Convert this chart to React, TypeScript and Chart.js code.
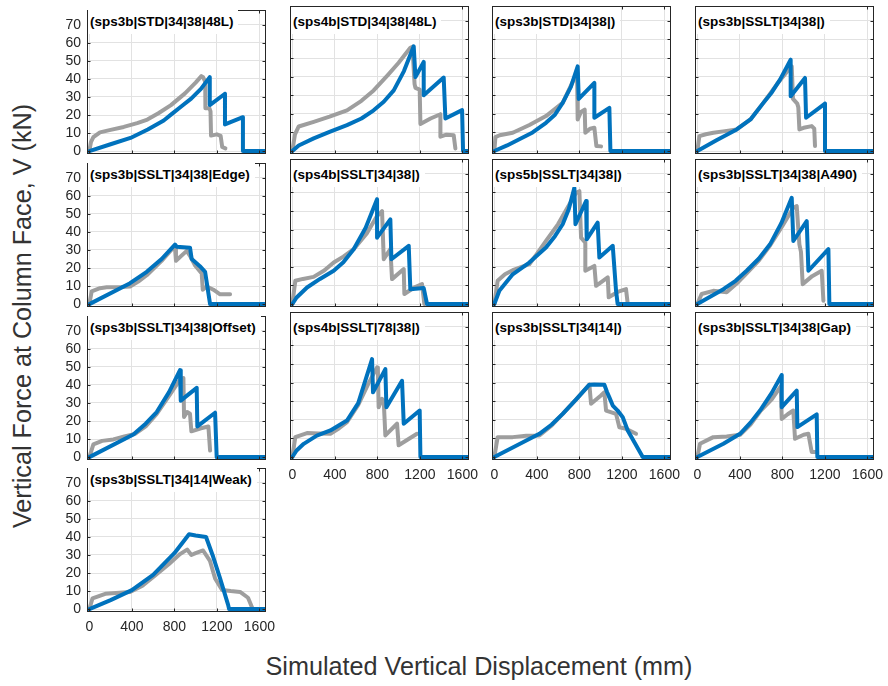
import React, { useEffect, useRef } from 'react';
import { Chart, registerables } from 'chart.js';

Chart.register(...registerables);

// ---------- data ----------
const panelTitles = [
  '(sps3b|STD|34|38|48L)',
  '(sps4b|STD|34|38|48L)',
  '(sps3b|STD|34|38|)',
  '(sps3b|SSLT|34|38|)',
  '(sps3b|SSLT|34|38|Edge)',
  '(sps4b|SSLT|34|38|)',
  '(sps5b|SSLT|34|38|)',
  '(sps3b|SSLT|34|38|A490)',
  '(sps3b|SSLT|34|38|Offset)',
  '(sps4b|SSLT|78|38|)',
  '(sps3b|SSLT|34|14|)',
  '(sps3b|SSLT|34|38|Gap)',
  '(sps3b|SSLT|34|14|Weak)',
];

const xTicks = [0, 400, 800, 1200, 1600];
const yTicks = [0, 10, 20, 30, 40, 50, 60, 70];

// simulated (blue) curves: [displacement mm, force kN]
const sim01 = [[0,0],[200,3.8],[387,7.3],[550,12],[700,17],[768,20.2],[870,25],[958,29.1],[1050,34.5],[1133,41],[1133,25.5],[1276,31.8],[1276,14.8],[1445,18.8],[1445,0],[1700,0]];
const sim02 = [[0,0],[60,3],[201,6.8],[350,10.3],[514,13.9],[650,17.5],[765,21.9],[860,26.5],[954,32.6],[1050,43],[1142,56.3],[1158,39.8],[1236,47.9],[1236,30],[1424,39.5],[1440,17.5],[1597,22],[1606,0],[1700,0]];
const sim03 = [[0,0],[120,3],[235,6.3],[360,10],[486,15.2],[570,19.5],[643,25.9],[720,34.5],[784,45.5],[794,28],[941,36.6],[941,17.9],[1082,23.2],[1092,0],[1700,0]];
const sim04 = [[0,0],[180,5.8],[370,11.6],[500,17],[621,25.9],[700,31.5],[778,38.4],[878,49.1],[878,29.5],[1013,39.3],[1023,17.9],[1201,25.5],[1201,0],[1700,0]];
const sim05 = [[0,0],[383,11.6],[540,17.9],[680,25],[806,33],[822,31.8],[947,31.3],[963,25],[1040,21],[1089,17.9],[1136,0],[1700,0]];
const sim06 = [[0,0],[40,3.5],[138,8.9],[260,13.5],[389,17.9],[480,22.5],[577,29.5],[690,41],[797,56.3],[797,35.7],[922,45.5],[932,24.1],[1095,31.3],[1110,8],[1236,8.6],[1267,0],[1700,0]];
const sim07 = [[0,0],[47,7.1],[173,16],[329,22.3],[420,27],[486,30.4],[570,36.5],[643,42.9],[700,51],[753,62.5],[763,42.9],[863,55.4],[869,34.8],[972,43.8],[988,25],[1114,31.3],[1145,7.1],[1160,0],[1700,0]];
const sim08 = [[0,0],[245,8],[360,12.5],[464,17.9],[580,24.5],[684,32.1],[790,43.5],[888,57.1],[903,33.9],[1029,44.6],[1045,17.9],[1233,29.5],[1242,0],[1700,0]];
const sim09 = [[0,0],[414,12.5],[530,18.5],[634,25],[750,36],[853,48.2],[860,31.3],[1010,38.4],[1016,17],[1183,24.6],[1198,0],[1700,0]];
const sim10 = [[0,0],[40,3.5],[107,7.1],[230,11.5],[358,14.3],[514,19.6],[620,29],[750,52.7],[759,34.8],[875,47.3],[885,26.8],[1032,41],[1048,17.9],[1198,25],[1205,0],[1700,0]];
const sim11 = [[0,0],[424,12.5],[540,17.5],[643,23.2],[770,31],[894,38.9],[940,39],[1035,38.9],[1060,35],[1082,32.1],[1114,27.7],[1160,25],[1208,21.4],[1255,14.3],[1396,0],[1700,0]];
const sim12 = [[0,0],[245,7.1],[402,12.5],[500,18.5],[590,25],[700,34.5],[794,44.1],[794,26.8],[935,35.7],[941,16.1],[1123,22.9],[1129,0],[1700,0]];
const sim13 = [[0,0],[200,5],[400,10.5],[600,19],[800,31],[938,41.5],[1000,40.8],[1098,40],[1165,29],[1230,17],[1305,2.5],[1315,0],[1700,0]];

// experimental (grey) curves
const exp01 = [[0,0],[15,5],[38,7.7],[100,10.4],[200,11.8],[324,13.4],[450,15.5],[546,17.5],[650,21],[768,25.5],[900,32],[1000,38],[1054,41.6],[1070,41],[1090,38.5],[1092,23.7],[1130,23.7],[1140,22],[1145,8.6],[1200,9.3],[1235,8.5],[1250,2.3],[1280,1.5]];
const exp02 = [[0,0],[25,9],[60,13.2],[201,15.7],[350,18.5],[514,21.9],[650,27],[765,32.6],[900,41],[1000,47.5],[1110,55.5],[1130,56],[1150,36],[1158,34],[1198,33],[1205,14.5],[1300,17.5],[1393,19.8],[1393,7.7],[1450,8.8],[1518,8.5],[1534,1.4]];
const exp03 = [[0,0],[10,7.5],[50,8.5],[173,9.8],[330,14],[486,18.8],[643,25.9],[769,41],[778,42],[784,17],[815,21],[850,22.3],[856,9.8],[900,12],[941,12.5],[960,2.7],[1004,2.5]];
const exp04 = [[0,0],[19,8],[80,9],[151,9.8],[260,10.7],[370,11.6],[500,17],[621,25.9],[750,36],[872,44.6],[888,45.5],[900,28],[940,25.5],[950,23.5],[960,11.6],[1000,12.5],[1076,13.4],[1100,12],[1107,2.7]];
const exp05 = [[0,0],[22,7.1],[100,8.8],[163,9.3],[300,9.5],[383,9.8],[460,12.5],[540,16],[680,24],[790,31.3],[806,31],[815,24],[916,29.5],[947,26.8],[995,21.4],[1057,17],[1067,8],[1104,9.8],[1167,8],[1230,5.4],[1324,5.4]];
const exp06 = [[0,0],[28,12.5],[100,13.5],[200,14.6],[300,18],[389,22.3],[480,25.5],[577,29.5],[700,38],[797,47.3],[844,50],[860,24.1],[922,29.5],[938,13.4],[1048,18.8],[1054,5.4],[1150,9],[1220,10.7],[1242,0]];
const exp07 = [[0,0],[31,12.5],[100,16],[173,18.2],[329,21.4],[400,27],[486,34],[600,43],[769,59.8],[800,60.7],[816,35.7],[856,33],[856,17.9],[941,20.5],[957,9.8],[1067,14.3],[1076,3.6],[1160,6.5],[1239,8],[1255,0]];
const exp08 = [[0,0],[40,5.4],[150,7.1],[276,6.3],[370,11],[464,16.5],[580,23.5],[684,31.5],[800,42],[903,51.8],[935,52.7],[960,32.1],[975,28],[991,10.7],[1080,15],[1170,17.9],[1186,1.8]];
const exp09 = [[0,0],[38,7.1],[120,9],[226,9.8],[330,11.5],[430,12.9],[530,17],[634,24],[750,34],[853,42.9],[885,43.8],[891,22.3],[920,25],[947,24],[960,14.3],[1050,16],[1120,17],[1136,3.6]];
const exp10 = [[0,0],[28,10.7],[138,12.9],[250,12.7],[358,12.5],[440,15.5],[514,18.8],[620,28],[720,40],[797,48.2],[805,47],[812,26.8],[844,31.3],[860,30],[875,11.6],[985,17.9],[1000,6.3],[1173,12.5]];
const exp11 = [[0,0],[31,10.7],[173,10.7],[300,11.5],[424,11.6],[540,17],[643,23.2],[770,31],[894,38.9],[910,28.6],[1000,33],[1035,34.8],[1051,25],[1145,23.2],[1176,16],[1239,15.2],[1333,12.5]];
const exp12 = [[0,0],[25,7.1],[150,10.7],[276,11.1],[402,12],[500,17.5],[590,24.5],[700,31],[778,37.5],[785,38],[794,20.5],[850,23],[903,25],[919,9.8],[1000,12],[1045,12.5],[1076,2.7],[1123,2.7]];
const exp13 = [[0,0],[30,6],[150,8.5],[383,9.5],[500,13],[619,18.6],[750,25],[853,30.5],[920,33],[960,30],[1000,31],[1070,32.5],[1135,26.7],[1183,17],[1249,10.6],[1330,10],[1418,9.5],[1493,6.3],[1530,1]];

const simulated = [sim01, sim02, sim03, sim04, sim05, sim06, sim07, sim08, sim09, sim10, sim11, sim12, sim13];
const experimental = [exp01, exp02, exp03, exp04, exp05, exp06, exp07, exp08, exp09, exp10, exp11, exp12, exp13];

// ---------- style / layout ----------
const BLUE = '#0072BD';
const GREY = '#9e9e9e';
const GRID = '#e2e2e2';
const AXIS = '#262626';
const FONT = '"Liberation Sans", Arial, Helvetica, sans-serif';
const X_MIN = -22, X_MAX = 1662, Y_MIN = -1.6, Y_MAX = 78;
const PLOT_W = 179, PLOT_H = 148;
const COL_LEFT = (c: number) => Math.round(86.8 + 202.7 * c);
const ROW_TOP = (r: number) => Math.round(6 + 152.8 * r);
const PAD_L = 40, PAD_T = 10, PAD_R = 25, PAD_B = 30;

const boxPlugin = {
  id: 'matlabBox',
  afterDraw(chart: any) {
    const { ctx, chartArea: a, scales } = chart;
    ctx.save();
    ctx.strokeStyle = AXIS;
    ctx.lineWidth = 1;
    const L = Math.round(a.left) + 0.5, T = Math.round(a.top) + 0.5;
    const R = Math.round(a.right) - 0.5, B = Math.round(a.bottom) - 0.5;
    ctx.strokeRect(L, T, R - L, B - T);
    const tl = 3;
    ctx.beginPath();
    xTicks.forEach((v) => {
      const px = Math.round(scales.x.getPixelForValue(v)) + 0.5;
      ctx.moveTo(px, B); ctx.lineTo(px, B - tl);
      ctx.moveTo(px, T); ctx.lineTo(px, T + tl);
    });
    yTicks.forEach((v) => {
      const py = Math.round(scales.y.getPixelForValue(v)) + 0.5;
      ctx.moveTo(L, py); ctx.lineTo(L + tl, py);
      ctx.moveTo(R, py); ctx.lineTo(R - tl, py);
    });
    ctx.stroke();
    ctx.restore();
  },
};

function Panel({ idx }: { idx: number }) {
  const ref = useRef<HTMLCanvasElement>(null);
  const c = idx % 4;
  const r = Math.floor(idx / 4);
  const left = COL_LEFT(c);
  const top = ROW_TOP(r);
  useEffect(() => {
    const showX = r === 3 || (r === 2 && c > 0);
    const showY = c === 0;
    const chart = new Chart(ref.current as HTMLCanvasElement, {
      type: 'line',
      data: {
        datasets: [
          {
            data: simulated[idx].map(([x, y]) => ({ x, y })),
            borderColor: BLUE,
            borderWidth: 4,
            borderJoinStyle: 'round',
            borderCapStyle: 'round',
            pointRadius: 0,
            tension: 0,
            clip: 0,
          },
          {
            data: experimental[idx].map(([x, y]) => ({ x, y })),
            borderColor: GREY,
            borderWidth: 4,
            borderJoinStyle: 'round',
            borderCapStyle: 'round',
            pointRadius: 0,
            tension: 0,
            clip: 0,
          },
        ],
      },
      options: {
        animation: false,
        responsive: false,
        events: [],
        layout: { padding: { top: PAD_T, right: PAD_R, left: 0, bottom: 0 } },
        plugins: { legend: { display: false }, tooltip: { enabled: false } },
        scales: {
          x: {
            type: 'linear',
            min: X_MIN,
            max: X_MAX,
            afterFit: (s: any) => { s.height = PAD_B; },
            afterBuildTicks: (s: any) => { s.ticks = xTicks.map((v) => ({ value: v })); },
            grid: { color: GRID, drawTicks: false, lineWidth: 1 },
            border: { display: false },
            ticks: {
              display: showX,
              padding: 7,
              autoSkip: false,
              maxRotation: 0,
              color: AXIS,
              font: { family: FONT, size: 14 },
              callback: (v: any) => String(v),
            },
          },
          y: {
            type: 'linear',
            min: Y_MIN,
            max: Y_MAX,
            afterFit: (s: any) => { s.width = PAD_L; },
            afterBuildTicks: (s: any) => { s.ticks = yTicks.map((v) => ({ value: v })); },
            grid: { color: GRID, drawTicks: false, lineWidth: 1 },
            border: { display: false },
            ticks: {
              display: showY,
              padding: 6,
              autoSkip: false,
              color: AXIS,
              font: { family: FONT, size: 14 },
              callback: (v: any) => String(v),
            },
          },
        },
      },
      plugins: [boxPlugin],
    } as any);
    return () => chart.destroy();
  }, [idx]);

  return (
    <>
      <canvas
        ref={ref}
        width={PAD_L + PLOT_W + PAD_R}
        height={PAD_T + PLOT_H + PAD_B}
        style={{ position: 'absolute', left: left - PAD_L, top: top - PAD_T, width: PAD_L + PLOT_W + PAD_R, height: PAD_T + PLOT_H + PAD_B }}
      />
      <div
        style={{
          position: 'absolute',
          left: left + 1,
          top: top + 1,
          height: 27,
          lineHeight: '29px',
          padding: '0 5px 0 2px',
          background: '#fff',
          fontFamily: FONT,
          fontWeight: 'bold',
          fontSize: 13.5,
          color: '#000',
          whiteSpace: 'nowrap',
        }}
      >
        {panelTitles[idx]}
      </div>
    </>
  );
}

export default function App() {
  return (
    <div style={{ position: 'absolute', left: 0, top: 0, width: 888, height: 686, background: '#fff', overflow: 'hidden' }}>
      {panelTitles.map((_, i) => (
        <Panel key={i} idx={i} />
      ))}
      <div
        style={{
          position: 'absolute',
          left: 22,
          top: 316,
          transform: 'translate(-50%, -50%) rotate(-90deg)',
          whiteSpace: 'nowrap',
          fontFamily: FONT,
          fontSize: 25.2,
          color: '#333',
        }}
      >
        Vertical Force at Column Face, V (kN)
      </div>
      <div
        style={{
          position: 'absolute',
          left: 479,
          top: 666,
          transform: 'translate(-50%, -50%)',
          whiteSpace: 'nowrap',
          fontFamily: FONT,
          fontSize: 25.2,
          color: '#333',
        }}
      >
        Simulated Vertical Displacement (mm)
      </div>
    </div>
  );
}
